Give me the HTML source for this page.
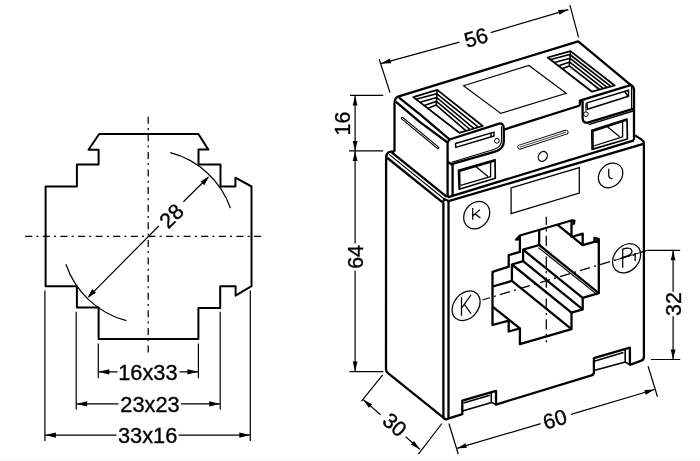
<!DOCTYPE html>
<html><head><meta charset="utf-8">
<style>
html,body{margin:0;padding:0;background:#fff;}
body{width:700px;height:461px;overflow:hidden;font-family:"Liberation Sans",sans-serif;}
svg{display:block;filter:grayscale(1);}
text{font-family:"Liberation Sans",sans-serif;fill:#000;stroke:#000;stroke-width:0.35;}
.o{fill:none;stroke:#000;stroke-width:2;stroke-linejoin:round;stroke-linecap:butt;}
#right .o{stroke-width:2.3;}
.t{fill:none;stroke:#000;stroke-width:1.2;}
.m{fill:none;stroke:#000;stroke-width:1.25;}
.c{fill:none;stroke:#000;stroke-width:1.25;stroke-dasharray:7 4.2 2 4.4;}
#right .c{stroke-dasharray:10.3 4.2 2.1 4.3;}
.a{fill:#000;stroke:none;}
</style></head><body>
<svg width="700" height="461" viewBox="0 0 700 461">
<rect width="700" height="461" fill="#fff"/><rect y="458.5" width="700" height="2.5" fill="#fbfbfb"/>
<g style="opacity:0.999">
<!-- LEFT FIGURE -->
<g id="left">
<path class="o" d="M99.2 134 L198.4 134 L208.3 149.6 L198.5 149.6 L198.5 164.6 L220.5 164.6 L220.5 186.5 L235.4 186.5 L235.4 177.7 L251.5 186.5 L251.5 286.2 L235.6 295.6 L235.6 286.3 L220.2 286.3 L220.2 308 L198.4 308 L198.4 339 L98.6 339 L98.6 307.6 L76.9 307.6 L76.9 286.3 L45.6 286.3 L45.6 186.5 L76.9 186.5 L76.9 164.6 L98.6 164.6 L98.6 149.7 L88.5 149.7 Z"/>
<!-- center lines -->
<path class="c" d="M25.2 236.4 H265"/>
<path class="c" d="M148.2 116.7 V353.5"/>
<!-- arcs -->
<path class="t" d="M170.3 152.7 A87 87 0 0 1 230.5 208.3"/>
<path class="t" d="M65.9 264.3 A87.5 87.5 0 0 0 126.4 320.7"/>
<!-- diagonal dim -->
<path class="t" d="M88.6 296.8 L158.8 226 M183.4 201.8 L208.2 177.3"/>
<path class="a" d="M209.2 176.3 L204.3 185.2 L200.6 181.5 Z"/>
<path class="a" d="M87.4 298 L92.3 289.1 L96 292.8 Z"/>
<text font-size="21.6" text-anchor="middle" transform="translate(171.2 215.8) rotate(-45)" dy="7.7">28</text>
<!-- extension lines -->
<path class="t" d="M44.9 290.5 V441 M76.2 311.7 V409.6 M98.3 343.6 V378.2 M198.4 343.6 V378.2 M220.2 311.7 V409.6 M250.3 290.5 V441"/>
<!-- dim lines -->
<path class="t" d="M98.3 371.8 H117.5 M179.5 371.8 H198.4"/>
<path class="t" d="M76.2 403.9 H118.5 M181 403.9 H220.2"/>
<path class="t" d="M44.9 435.1 H116.5 M178.5 435.1 H250.3"/>
<path class="a" d="M98.3 371.8 l11 -2.6 v5.2 Z M198.4 371.8 l-11 -2.6 v5.2 Z"/>
<path class="a" d="M76.2 403.9 l11 -2.6 v5.2 Z M220.2 403.9 l-11 -2.6 v5.2 Z"/>
<path class="a" d="M44.9 435.1 l11 -2.6 v5.2 Z M250.3 435.1 l-11 -2.6 v5.2 Z"/>
<text x="147.9" y="379.9" font-size="21.8" text-anchor="middle">16x33</text>
<text x="150" y="411.6" font-size="21.8" text-anchor="middle">23x23</text>
<text x="147.6" y="443.2" font-size="21.8" text-anchor="middle">33x16</text>
</g>
<!-- RIGHT FIGURE -->
<g id="right">
<!-- ===== dimensions ===== -->
<g class="t">
<!-- 56 -->
<path d="M379.2 59.2 L390 92.6 M569.9 5.2 L578.6 37.3"/>
<path d="M380.9 63.6 L459.5 42.1 M490.7 32.6 L568.4 9.6"/>
<!-- 60 -->
<path d="M448.9 423.5 L458.3 454.2 M648.1 366.2 L657.5 396.8"/>
<path d="M456.7 448.4 L540.7 423.6 M571 414.4 L654.6 389.5"/>
<!-- 30 -->
<path d="M382.7 374.9 L361.5 401.2 M441.9 423.5 L418.4 454.2"/>
<path d="M363 399.4 L380.5 414.8 M405.7 436.7 L420 449.4"/>
<!-- 16 / 64 -->
<path d="M350 95.4 H383.2 M349 150.9 H383.2 M349.5 371.6 H383.3"/>
<path d="M355.1 95.4 V243.6 M355.1 270.7 V371.6"/>
<!-- 32 -->
<path d="M647.5 250.3 H680.2 M651 359.5 H680.2"/>
<path d="M673.1 250.3 V291.8 M673.1 316.2 V359.5"/>
</g>
<g class="a">
<path d="M355.1 95.4 l-2.4 10 h4.8 Z M355.1 150.9 l-2.4 -10 h4.8 Z M355.1 150.9 l-2.4 10 h4.8 Z M355.1 371.6 l-2.4 -10 h4.8 Z"/>
<path d="M673.1 250.3 l-2.4 10 h4.8 Z M673.1 359.5 l-2.4 -10 h4.8 Z"/>
<path d="M0 0 l10 -2.4 v4.8 Z" transform="translate(380.9 63.6) rotate(-16.1)"/>
<path d="M0 0 l-10 -2.4 v4.8 Z" transform="translate(568.4 9.6) rotate(-16.1)"/>
<path d="M0 0 l10 -2.4 v4.8 Z" transform="translate(456.7 448.4) rotate(-16.5)"/>
<path d="M0 0 l-10 -2.4 v4.8 Z" transform="translate(654.6 389.5) rotate(-16.5)"/>
<path d="M0 0 l10 -2.4 v4.8 Z" transform="translate(363 399.4) rotate(41.3)"/>
<path d="M0 0 l-10 -2.4 v4.8 Z" transform="translate(420 449.4) rotate(41.3)"/>
</g>
<text font-size="21.3" text-anchor="middle" transform="translate(476 37.5) rotate(-16.1)" dy="7.6">56</text>
<text font-size="21.3" text-anchor="middle" transform="translate(554.8 419) rotate(-16.5)" dy="7.6">60</text>
<text font-size="21.3" text-anchor="middle" transform="translate(394.8 424.6) rotate(41.3)" dy="7.6">30</text>
<text font-size="21.3" text-anchor="middle" transform="translate(350.2 123.6) rotate(-90)">16</text>
<text font-size="21.3" text-anchor="middle" transform="translate(363 257) rotate(-90)">64</text>
<text font-size="21.3" text-anchor="middle" transform="translate(680.8 304.1) rotate(-90)">32</text>

<!-- ===== body ===== -->
<g class="o">
<!-- left side outline -->
<path d="M394.6 151.4 L391 151.6 Q386.1 152.5 386.1 157.5 L386 369.2 Q386 371.6 388 373.2 L445.6 419.4"/>
<!-- shoulder lines -->
<path d="M391.4 152.1 L446.8 196.9"/>
<path d="M386.8 157.5 L442.6 202.4"/>
<!-- front-left verticals -->
<path d="M443.4 202.6 V417 Q443.6 419.4 446.3 419.4 L449 418.3"/>
<path d="M448.5 201 V418.3"/>
<path d="M442.6 202.4 L444.5 199.2 L448.5 201"/>
<!-- front top edges -->
<path d="M448.5 201.2 L643.4 143.8"/>
<!-- right edge + bottom -->
<path d="M635 135.4 L641.6 139.6 Q643.9 141 643.9 143.5 V356.8 Q643.9 359.8 641.4 360.7 L629.9 364.9 V347.7 L593.9 358.2 V372.4 Q593.9 374.6 591.5 375.3 L496 404.6 V390.9 L462.3 400.6 V414.2 L449 418.3"/>
<!-- left foot inner -->
<path d="M463.4 403.1 L490 395.2 M462.5 410.9 L491.6 402.4 L496 404.6 M491.3 392.6 V402.6" stroke-width="1.6"/>
<!-- right foot inner -->
<path d="M595 361.1 L623.4 352.6 M594 370.6 L625.3 362 L629.9 364.9 M625.2 349.6 V362" stroke-width="1.6"/>
</g>
<path class="t" d="M389.1 154.4 L444.5 199.2"/>

<!-- label rect on front -->
<path class="m" d="M511.1 187.9 L579.3 167.7 L579.3 193.1 L511.1 213.6 Z" stroke-width="1"/>

<!-- circles + letters -->
<g class="m">
<ellipse cx="476.7" cy="215.2" rx="14.6" ry="12" transform="rotate(-53 476.7 215.2)"/>
<path d="M472.7 208 V219.7 M479.9 209.6 L473 215.8 M475.2 214.1 L480.4 218"/>
<ellipse cx="466.1" cy="305.8" rx="16.3" ry="12.2" transform="rotate(-50.5 466.1 305.8)"/>
<path d="M461.5 297.2 V315.8 M471 295 L461.9 307.6 M464.5 304.5 L471 313.6"/>
<ellipse cx="626.6" cy="258.3" rx="16" ry="12.4" transform="rotate(-50 626.6 258.3)"/>
<path d="M622.7 267.8 V249.1 Q627 247.6 630.2 248.5 Q633 250.5 631.3 253.4 Q628.5 256.5 623 257"/>
<path d="M633.1 255.6 L635.2 253.8 V261"/>
<ellipse cx="610.6" cy="175.4" rx="13.5" ry="10.9" transform="rotate(-46.6 610.6 175.4)"/>
<path d="M608.75 168.75 V176 Q609 178.6 612.4 178.6"/>
</g>

<!-- center lines -->
<path class="c" d="M546.3 216.8 V342.3" stroke-dashoffset="2"/>
<path class="c" d="M482.3 300 L647.5 250.3" stroke-dashoffset="2.4"/>
<path d="M615.6 260.1 L643 251.7" fill="none" stroke="#000" stroke-width="0.95"/>

<!-- ===== window ===== -->
<g class="o" stroke-width="2">
<path d="M519.9 235.5 L571.5 220.5 L571.5 237.0 L582.7 233.7 L582.7 245.2 L598.8 240.6 L598.8 293.2 L582.7 297.9 L582.7 309.4 L571.5 312.7 L571.5 329.1 L519.9 344.1 L519.9 328.4 L508.7 331.5 L508.7 320.7 L492.5 325.0 L492.5 271.8 L508.7 266.7 L508.7 255.2 L519.9 251.9 Z"/>
<!-- nubs -->
<path d="M519.9 235.5 L516 239.7 L519.9 239.2 M571.5 220.5 L574.4 220.6 L574 223.6 L571.5 223.8 M594.4 241.8 V237.8 L598.8 239.2 V240.6"/>
<!-- depth lines -->
<path d="M571.5 329.1 L511.9 280.9 M571.5 312.7 L511.9 264.5 M582.7 309.4 L523.1 261.2 M582.7 297.9 L523.1 249.7 M598.8 293.2 L539.2 245"/>
<path d="M519.9 328.4 L492.5 306.6 M582.7 245.2 L557.3 224.6"/>
<!-- back outline -->
<path d="M492.6 286.5 L511.9 280.9 L511.9 264.5 L523.1 261.2 L523.1 249.7 L539.2 245.0 L539.2 229.9"/>
</g>
<path class="t" d="M597.2 294.6 L538.4 247.6" stroke-width="1.35"/>

<!-- ===== cap ===== -->
<g class="o">
<!-- outline -->
<path d="M394.5 151.4 V104 Q394.5 98 398 96.6 L578.2 41.3 L630.6 84.9 Q634 86.6 634 90 V140"/>
<!-- top-left edge Q,R -->
<path d="M399 97.7 L420 114.3 L449.5 139.3 L447.6 142.5"/>
<path d="M395.7 101.6 L420 122.1 L447.6 142.5 V197.3"/>
<!-- cap bottom front edge (line A) -->
<path d="M447.6 197.3 L634 140.3"/>
<!-- left bracket -->
<path d="M449.5 139.5 L500 123.4 Q503.8 123.4 503.8 128.9 V141.3 Q503.8 149 495.1 151.6 L451.4 164.2"/>
<path d="M501.5 126.6 V140.6 Q501.5 147.2 493.8 149.5 L451.7 162.2" stroke-width="1.1"/>
<path d="M455.5 143.5 L494 132.1 V136 L455.8 147.4 Z M491 133.2 V136.8" stroke-width="1.5"/>
<circle cx="496.9" cy="140.8" r="2.4" stroke-width="1"/>
<!-- cap front top middle -->
<path d="M504 129.6 L579.9 105.5"/>
<!-- right bracket -->
<path d="M631.4 84.9 L579.9 100.6 L579.9 105.5 M579.9 100.6 L582.6 101.7 V118 Q582.8 122.8 586.9 122.9 L634 108.7"/>
<path d="M588.6 124.6 L634 110.7" stroke-width="1.5"/>
<path d="M631.6 85.6 V109.4" stroke-width="1.3"/>
<path d="M585.9 103.3 V111.5" stroke-width="1"/>
<circle cx="585.9" cy="114.2" r="2.3" stroke-width="1"/>
<path d="M586.9 102.9 L628.5 90.3 V96.2 L587.4 109.2 Z M625 91.6 L627.6 95.8" stroke-width="1.5"/>
<!-- left terminal block -->
<path d="M447.6 161.8 L452.6 164.9 V195.8"/>
<path d="M458.5 170.4 L495 159.7 L495.3 178.3 L459.2 189.3 Z" stroke-width="1.7"/>
<path d="M459.9 187.8 L459.6 171.3 L494.6 161" stroke-width="1.5"/>
<path d="M490.6 162 V176.6 L460.6 185.3 M475.4 166.3 L488 176.6" stroke-width="1.3"/>
<!-- right terminal block -->
<path d="M591.8 130.4 L627 119 L627.4 139 L592.1 149.4 Z" stroke-width="1.7"/>
<path d="M593.1 148 L592.9 131.3 L626.4 120.4" stroke-width="1.5"/>
<path d="M622.6 121.4 V136.8 L593.5 146 M606.8 126.3 L619.6 136.8" stroke-width="1.3"/>
<!-- left recess -->
<path d="M413.3 97.1 L437.2 89.9 L482.7 126 L459.3 132.8 Z" stroke-width="1.8"/>
<path d="M416 99.2 L436.6 93.7 L478.3 127.2 M420.1 102.3 L436.7 97.5 L473.8 128.4 M424.3 105.4 L436.5 101.3 L470 129.5 M428.1 108.2 L436.2 105.1 L465.8 130.7 M437.2 89.9 L436.2 105.1" stroke-width="1.6"/>
<!-- right recess -->
<path d="M547.7 57.5 L570.5 51.1 L614.7 85.5 L592 91.7 Z" stroke-width="1.8"/>
<path d="M550.7 59.6 L569.8 54.5 L610.8 86.4 M554.5 62.6 L570.1 58.3 L607 87.4 M558.7 65.7 L569.7 62.1 L603.2 88.4 M562.5 68.4 L569.3 65.9 L599.5 89.5 M570.5 51.1 L569.3 65.9" stroke-width="1.6"/>
</g>
<!-- top label -->
<path class="t" d="M463.5 85.8 L528.9 65.5 L566.2 93.3 L500.8 113.4 Z" stroke-width="0.95"/>
<!-- left face groove -->
<path d="M402.2 118.2 L438.1 147.8" stroke="#000" stroke-width="2.8" stroke-linecap="round" fill="none"/>
<path d="M402.2 118.2 L438.1 147.8" stroke="#fff" stroke-width="0.9" stroke-linecap="round" fill="none"/>
<!-- front slot + hole -->
<path d="M519.8 147.1 L566 132.2" stroke="#000" stroke-width="5" stroke-linecap="round" fill="none"/>
<path d="M519.8 147.1 L566 132.2" stroke="#fff" stroke-width="3.2" stroke-linecap="round" fill="none"/>
<path d="M519.8 147.1 L566 132.2" stroke="#000" stroke-width="0.75" fill="none"/>
<ellipse class="m" cx="542.8" cy="156.4" rx="5.2" ry="4.2" transform="rotate(-55 542.8 156.4)"/>
</g>
</g>
</svg>
</body></html>
